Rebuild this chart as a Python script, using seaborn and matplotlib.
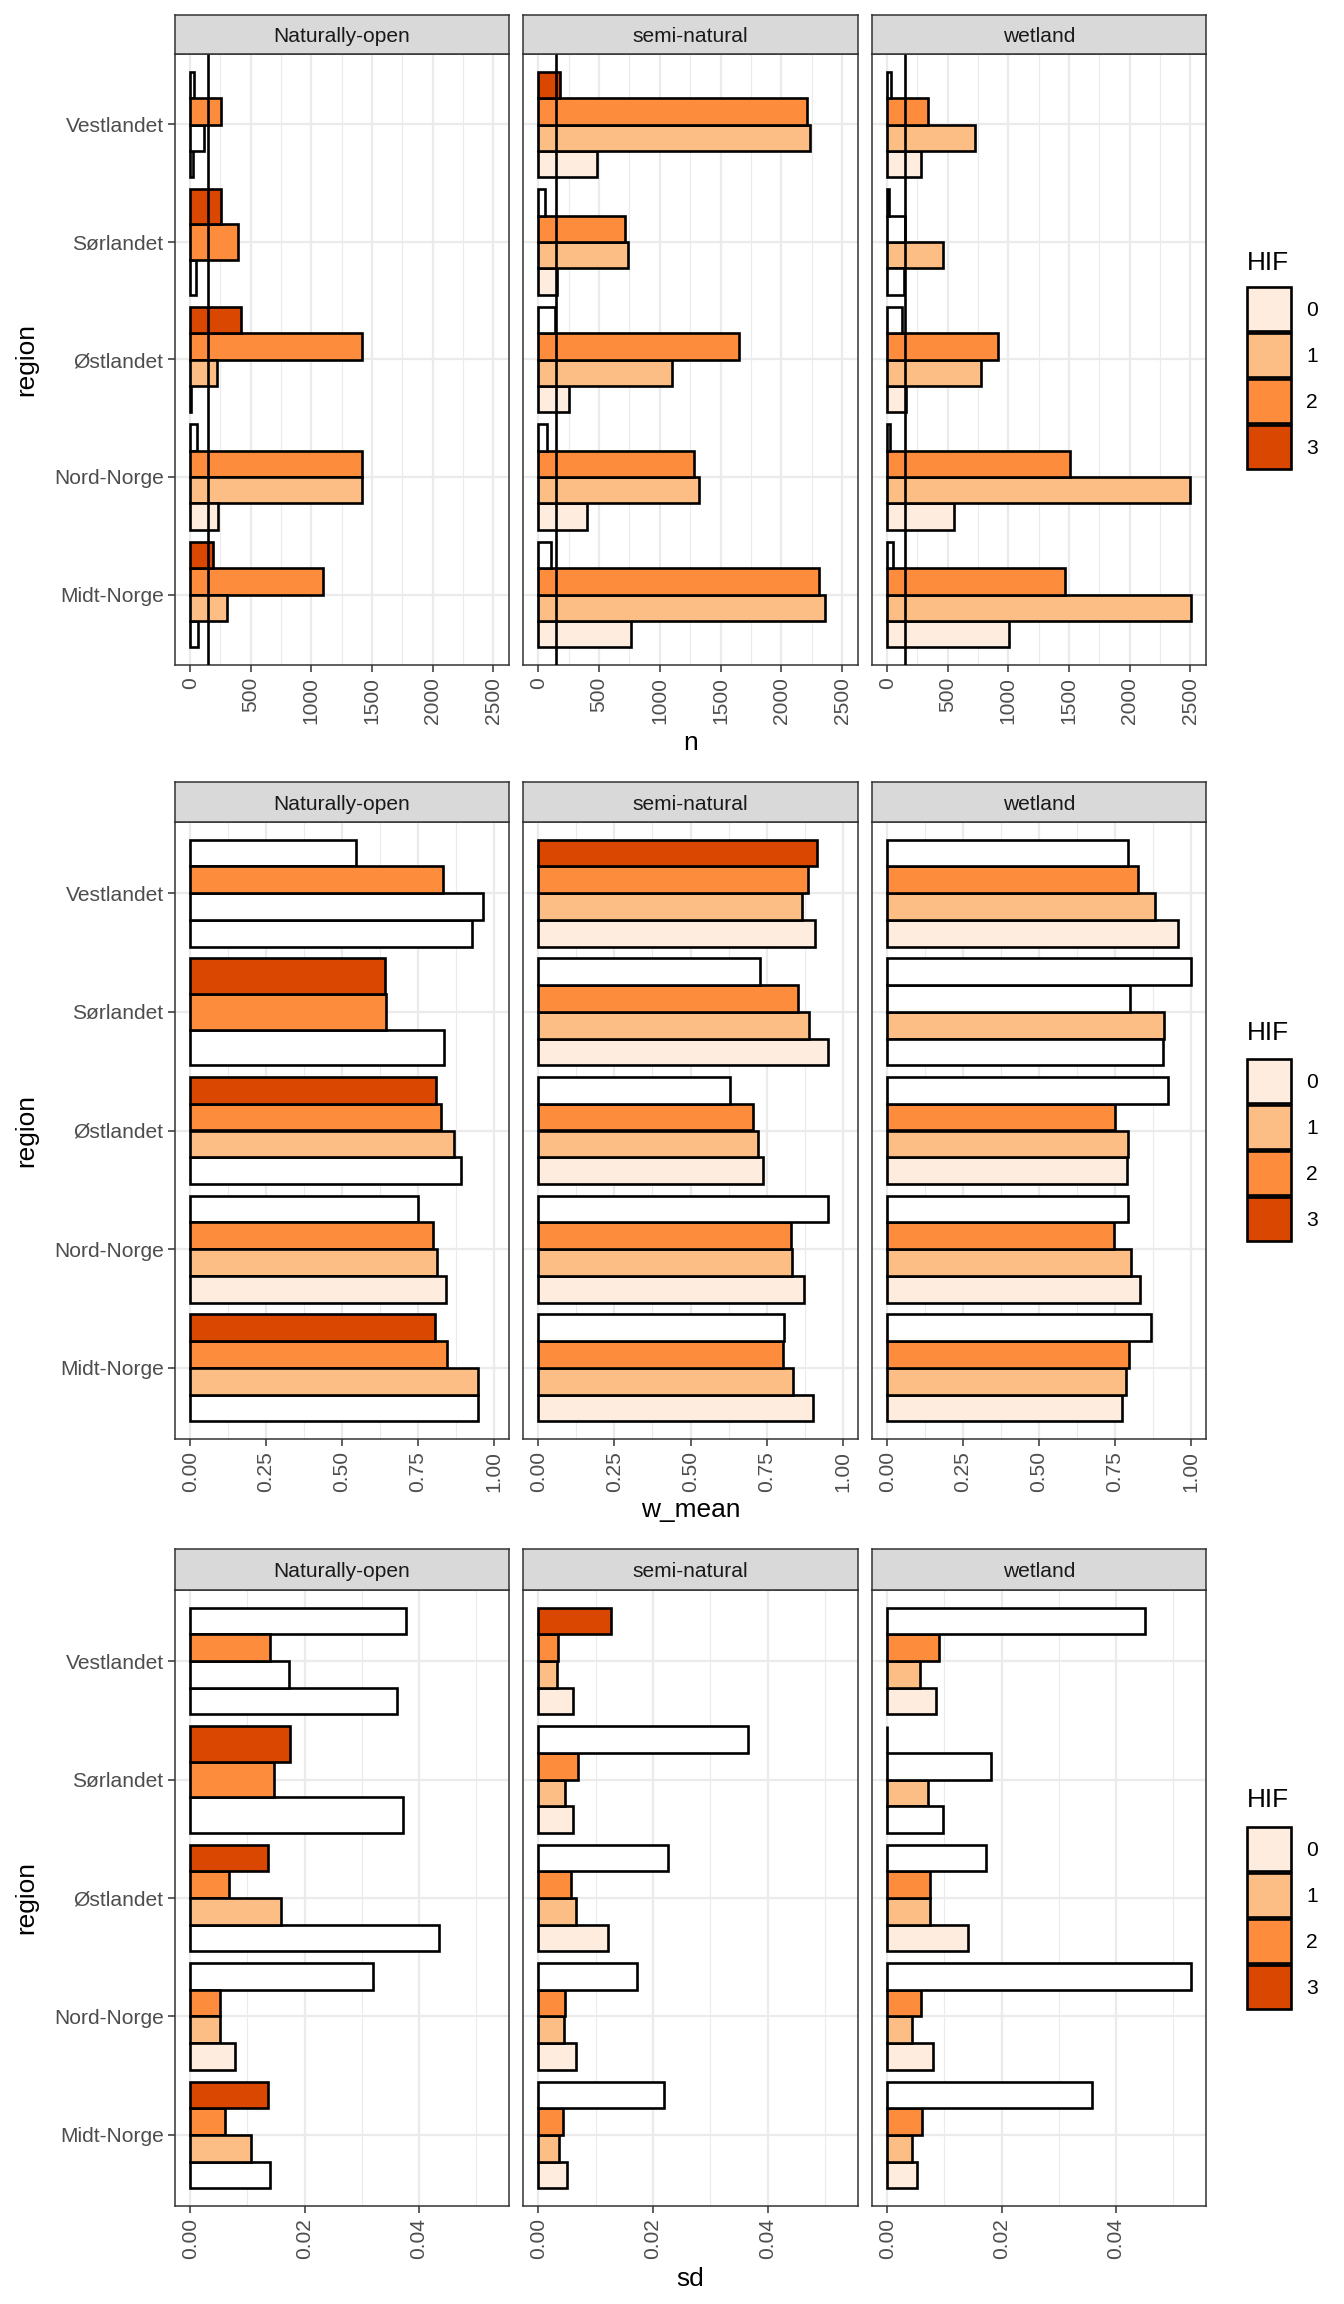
import numpy as np
import pandas as pd
import matplotlib
matplotlib.use("Agg")
import matplotlib.pyplot as plt
from matplotlib.patches import Rectangle
from matplotlib.ticker import FixedLocator
import seaborn as sns

sns.set_theme(style="ticks")
plt.rcParams["font.family"] = ["Liberation Sans", "DejaVu Sans"]

# ---------------- data ----------------
regions = ["Vestlandet", "Sørlandet", "Østlandet", "Nord-Norge", "Midt-Norge"]  # top -> bottom
hif_levels = ["0", "1", "2", "3"]
facets = ["Naturally-open", "semi-natural", "wetland"]
hif_colors = ["#FEEDDE", "#FDBE85", "#FD8D3C", "#D94701"]
n_min = 150
nan = np.nan

# rows = regions (top -> bottom), columns = HIF 0..3
n_open = [[20, 115, 252, 35],
          [46, nan, 391, 257],
          [10, 222, 1420, 416],
          [230, 1422, 1422, 55],
          [63, 304, 1100, 191]]
n_semi = [[487, 2237, 2215, 181],
          [155, 737, 715, 57],
          [255, 1103, 1648, 134],
          [402, 1325, 1281, 71],
          [767, 2360, 2311, 104]]
n_wet = [[277, 728, 334, 30],
         [137, 463, 145, 11],
         [156, 772, 915, 123],
         [553, 2503, 1511, 22],
         [1008, 2506, 1465, 47]]

w_open = [[0.929, 0.966, 0.831, 0.545],
          [0.837, nan, 0.644, 0.642],
          [0.891, 0.868, 0.825, 0.808],
          [0.842, 0.813, 0.800, 0.749],
          [0.948, 0.947, 0.846, 0.807]]
w_semi = [[0.909, 0.867, 0.885, 0.917],
          [0.951, 0.888, 0.853, 0.729],
          [0.738, 0.722, 0.706, 0.630],
          [0.873, 0.834, 0.830, 0.953],
          [0.903, 0.836, 0.803, 0.807]]
w_wet = [[0.958, 0.881, 0.826, 0.793],
         [0.907, 0.911, 0.800, 1.000],
         [0.789, 0.792, 0.751, 0.924],
         [0.833, 0.802, 0.746, 0.793],
         [0.772, 0.788, 0.795, 0.868]]

sd_open = [[0.0361, 0.0172, 0.0139, 0.0377],
           [0.0373, nan, 0.0147, 0.0175],
           [0.0436, 0.0159, 0.0068, 0.0136],
           [0.0079, 0.0052, 0.0052, 0.0320],
           [0.0140, 0.0107, 0.0061, 0.0136]]
sd_semi = [[0.0061, 0.0033, 0.0035, 0.0127],
           [0.0061, 0.0047, 0.0069, 0.0366],
           [0.0121, 0.0066, 0.0057, 0.0227],
           [0.0065, 0.0045, 0.0047, 0.0173],
           [0.0051, 0.0037, 0.0043, 0.0219]]
sd_wet = [[0.0085, 0.0057, 0.0090, 0.0451],
          [0.0097, 0.0072, 0.0181, 0.0000],
          [0.0141, 0.0075, 0.0075, 0.0173],
          [0.0080, 0.0044, 0.0059, 0.0531],
          [0.0053, 0.0043, 0.0061, 0.0358]]

metric_names = ["n", "w_mean", "sd"]
metric_values = {"n": [n_open, n_semi, n_wet],
                 "w_mean": [w_open, w_semi, w_wet],
                 "sd": [sd_open, sd_semi, sd_wet]}
n_values = [n_open, n_semi, n_wet]

n_ticks = [0, 500, 1000, 1500, 2000, 2500]
n_tick_labels = ["0", "500", "1000", "1500", "2000", "2500"]
w_ticks = [0.0, 0.25, 0.5, 0.75, 1.0]
w_tick_labels = ["0.00", "0.25", "0.50", "0.75", "1.00"]
sd_ticks = [0.0, 0.02, 0.04]
sd_tick_labels = ["0.00", "0.02", "0.04"]
ticks = {"n": (n_ticks, n_tick_labels), "w_mean": (w_ticks, w_tick_labels),
         "sd": (sd_ticks, sd_tick_labels)}

# ---------------- long table with ggplot-like dodge ----------------
nreg = len(regions)
records = []
for metric in metric_names:
    for f, facet in enumerate(facets):
        vals = np.array(metric_values[metric][f], float)
        nn = np.array(n_values[f], float)
        for i, reg in enumerate(regions):
            present = [h for h in range(len(hif_levels)) if not np.isnan(vals[i, h])]
            m = len(present)
            for k, h in enumerate(present):
                pos = (nreg - i) - 0.45 + (k + 0.5) * 0.9 / m
                fill = hif_levels[h] if nn[i, h] >= n_min else "low"
                records.append(dict(metric=metric, facet=facet, region=reg,
                                    HIF=hif_levels[h], value=vals[i, h],
                                    n=nn[i, h], pos=pos, m=m, fill=fill))
df = pd.DataFrame(records)

palette = {lvl: c for lvl, c in zip(hif_levels, hif_colors)}
palette["low"] = "white"

# ---------------- layout (pixels) ----------------
W, H = 1344, 2304
DPI = 100
fig = plt.figure(figsize=(W / DPI, H / DPI), dpi=DPI)
fig.patch.set_facecolor("white")


def frect(x0, y0, x1, y1):
    return [x0 / W, 1 - y1 / H, (x1 - x0) / W, (y1 - y0) / H]


col_x = [(175, 509), (523, 858), (872, 1206)]
row_y = [(15, 54, 665), (782, 822, 1439), (1549, 1590, 2206)]
xlab_y = [743, 1510, 2279]
leg_top = [287, 1059, 1827]
leg_title_y = [263, 1033, 1800]

FS = 15.1
FS_T = 18.9
BAR_LW = 1.9
BORDER_LW = 1.1
GRID_MAJ = 1.6
GRID_MIN = 0.8
TXT = "#4D4D4D"

for r, metric in enumerate(metric_names):
    st, pt, pb = row_y[r]
    sub_m = df[df.metric == metric]
    vmax = sub_m.value.max()
    xlim = (-0.05 * vmax, 1.05 * vmax)
    tks, tlabs = ticks[metric]
    step = tks[1] - tks[0]
    minor = [v for v in np.arange(tks[0] - step / 2, xlim[1], step)
             if xlim[0] <= v <= xlim[1]]
    for c, facet in enumerate(facets):
        x0, x1 = col_x[c]
        ax = fig.add_axes(frect(x0, pt, x1, pb))
        ax.set_facecolor("white")
        sub = sub_m[sub_m.facet == facet]
        for m, grp in sub.groupby("m"):
            sns.barplot(data=grp, x="value", y="pos", hue="fill", palette=palette,
                        orient="y", native_scale=True, dodge=False, width=1.0,
                        saturation=1, errorbar=None, legend=False,
                        edgecolor="black", linewidth=BAR_LW, ax=ax, zorder=2)
        if metric == "n":
            ax.axvline(n_min, color="black", lw=BAR_LW, zorder=3)
        ax.set_xlim(xlim)
        ax.set_ylim(0.4, nreg + 0.6)
        ax.set_xticks(tks)
        ax.set_xticklabels(tlabs, rotation=90, fontsize=FS, color=TXT)
        ax.xaxis.set_minor_locator(FixedLocator(minor))
        ax.set_yticks(range(1, nreg + 1))
        if c == 0:
            ax.set_yticklabels(regions[::-1], fontsize=FS, color=TXT)
            ax.tick_params(axis="y", which="major", left=True, length=4.75,
                           width=BORDER_LW, color="#333333", pad=3.5)
        else:
            ax.set_yticklabels([])
            ax.tick_params(axis="y", which="major", left=False, length=0)
        ax.tick_params(axis="x", which="major", bottom=True, length=4.75,
                       width=BORDER_LW, color="#333333", pad=4)
        ax.tick_params(which="minor", length=0)
        ax.grid(True, which="major", color="#EBEBEB", lw=GRID_MAJ)
        ax.grid(True, which="minor", axis="x", color="#EBEBEB", lw=GRID_MIN)
        ax.set_axisbelow(True)
        for sp in ax.spines.values():
            sp.set_visible(True)
            sp.set_color("#333333")
            sp.set_linewidth(BORDER_LW)
        ax.set_xlabel("")
        ax.set_ylabel("")

        # strip
        sax = fig.add_axes(frect(x0, st, x1, pt))
        sax.set_facecolor("#D9D9D9")
        sax.set_xticks([])
        sax.set_yticks([])
        for sp in sax.spines.values():
            sp.set_visible(True)
            sp.set_color("#333333")
            sp.set_linewidth(BORDER_LW)
        fig.text((x0 + x1) / 2 / W, 1 - ((st + pt) / 2 + 7.5) / H, facet,
                 ha="center", va="baseline", fontsize=FS, color="#1A1A1A")

    # axis titles
    fig.text((col_x[0][0] + col_x[2][1]) / 2 / W, 1 - xlab_y[r] / H, metric,
             ha="center", va="center", fontsize=FS_T, color="black")
    fig.text(26 / W, 1 - (pt + pb) / 2 / H, "region", ha="center", va="center",
             rotation=90, fontsize=FS_T, color="black")

    # legend
    fig.text(1247 / W, 1 - leg_title_y[r] / H, "HIF", ha="left", va="center",
             fontsize=FS_T, color="black")
    slot_h, key_w, key_h = 46, 44, 44
    for k, col in enumerate(hif_colors):
        y0 = leg_top[r] + k * slot_h
        fig.patches.append(Rectangle((1247 / W, 1 - (y0 + key_h) / H),
                                     key_w / W, key_h / H,
                                     transform=fig.transFigure, facecolor=col,
                                     edgecolor="black", lw=BAR_LW))
        fig.text(1306 / W, 1 - (y0 + key_h / 2) / H, hif_levels[k], ha="left",
                 va="center_baseline", fontsize=FS, color="black")

fig.savefig("out.png", dpi=DPI, facecolor="white")
